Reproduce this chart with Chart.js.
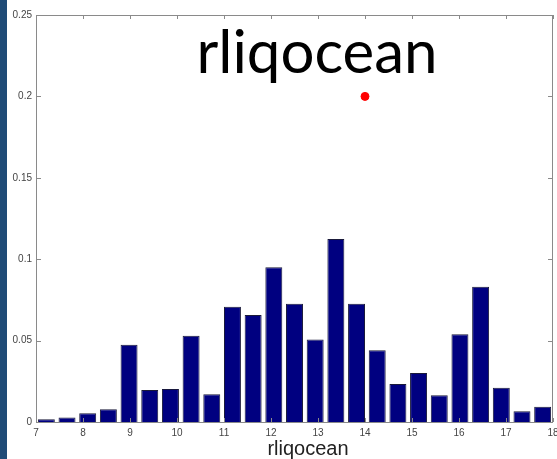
<!DOCTYPE html>
<html>
<head>
    <meta charset="UTF-8">
    <title>rliqocean</title>
    <script src="https://cdn.jsdelivr.net/npm/chart.js"></script>
    <style>
        html, body { margin: 0; padding: 0; background: #fff; }
        #wrap { position: relative; width: 557px; height: 459px; }
    </style>
</head>
<body>
<div id="wrap">
    <canvas id="histChart" width="557" height="459"></canvas>
</div>
<script>
    // bin centres (bin width 0.44 from 7 to 18) and normalised counts
    const binCenters = [7.22, 7.66, 8.10, 8.54, 8.98, 9.42, 9.86, 10.30, 10.74, 11.18, 11.62, 12.06, 12.50,
        12.94, 13.38, 13.82, 14.26, 14.70, 15.14, 15.58, 16.02, 16.46, 16.90, 17.34, 17.78];
    const freqs = [0.0017, 0.0027, 0.0053, 0.0078, 0.0475, 0.0197, 0.0203, 0.0530, 0.0170, 0.0708, 0.0657, 0.0950, 0.0727,
        0.0506, 0.1124, 0.0727, 0.0440, 0.0233, 0.0301, 0.0164, 0.0539, 0.0831, 0.0211, 0.0066, 0.0094];
    const markerPoint = [{ x: 14, y: 0.2 }];
    const xTicks = [7, 8, 9, 10, 11, 12, 13, 14, 15, 16, 17, 18];
    const yTicks = [0, 0.05, 0.1, 0.15, 0.2, 0.25];

    const axisGray = '#8a8a8a';

    // MATLAB style box with inward ticks on all four sides, plus slide decorations
    const boxPlugin = {
        id: 'boxPlugin',
        beforeDraw(chart) {
            const c = chart.ctx;
            c.save();
            c.fillStyle = '#1f4b77';
            c.fillRect(0, 0, 7, chart.height);
            c.restore();
        },
        afterDatasetsDraw(chart) {
            const c = chart.ctx;
            const a = chart.chartArea;
            const xs = chart.scales.x, ys = chart.scales.y;
            c.save();
            c.strokeStyle = axisGray;
            c.lineWidth = 1;
            c.strokeRect(a.left + 0.5, a.top + 0.5, a.right - a.left - 1, a.bottom - a.top);
            c.beginPath();
            xTicks.forEach(v => {
                const px = Math.round(xs.getPixelForValue(v)) + 0.5;
                c.moveTo(px, a.bottom); c.lineTo(px, a.bottom - 4);
                c.moveTo(px, a.top); c.lineTo(px, a.top + 4);
            });
            yTicks.forEach(v => {
                const py = Math.round(ys.getPixelForValue(v)) + 0.5;
                c.moveTo(a.left, py); c.lineTo(a.left + 5, py);
                c.moveTo(a.right, py); c.lineTo(a.right - 5, py);
            });
            c.stroke();
            c.restore();
        },
        afterDraw(chart) {
            const c = chart.ctx;
            c.save();
            c.fillStyle = '#000';
            c.font = '60px Lato, "Open Sans", sans-serif';
            c.textAlign = 'center';
            c.textBaseline = 'alphabetic';
            c.fillText('rliqocean', 317, 73);
            c.fillStyle = '#222';
            c.font = '20px "Liberation Sans", Arial, sans-serif';
            c.fillText('rliqocean', 308, 455);
            c.restore();
        }
    };

    const ctx = document.getElementById('histChart').getContext('2d');
    new Chart(ctx, {
        type: 'bar',
        data: {
            datasets: [{
                type: 'bar',
                data: binCenters.map((x, i) => ({ x: x, y: freqs[i] })),
                backgroundColor: '#000080',
                borderColor: '#1a1a3a',
                borderWidth: 1,
                barPercentage: 0.82,
                categoryPercentage: 1.0,
                order: 2
            }, {
                type: 'scatter',
                data: markerPoint,
                backgroundColor: '#ff0000',
                borderColor: '#ff0000',
                pointRadius: 4,
                order: 1
            }]
        },
        options: {
            responsive: false,
            animation: false,
            layout: { autoPadding: false, padding: { top: 15, right: 4, left: 0, bottom: 0 } },
            plugins: { legend: { display: false }, tooltip: { enabled: false } },
            scales: {
                x: {
                    type: 'linear',
                    min: 7,
                    max: 18,
                    offset: false,
                    afterBuildTicks: s => { s.ticks = xTicks.map(v => ({ value: v })); },
                    afterFit: s => { s.height = 37; s.paddingLeft = 0; s.paddingRight = 0; },
                    grid: { display: false, drawTicks: false },
                    border: { display: false },
                    ticks: {
                        padding: 5,
                        color: '#444',
                        font: { family: '"Liberation Sans", Arial, sans-serif', size: 10 },
                        maxRotation: 0
                    }
                },
                y: {
                    min: 0,
                    max: 0.25,
                    afterBuildTicks: s => { s.ticks = yTicks.map(v => ({ value: v })); },
                    afterFit: s => { s.width = 36; s.paddingTop = 0; s.paddingBottom = 0; },
                    grid: { display: false, drawTicks: false },
                    border: { display: false },
                    ticks: {
                        padding: 4,
                        color: '#444',
                        font: { family: '"Liberation Sans", Arial, sans-serif', size: 10 },
                        callback: v => String(+v.toFixed(2))
                    }
                }
            }
        },
        plugins: [boxPlugin]
    });
</script>
</body>
</html>
